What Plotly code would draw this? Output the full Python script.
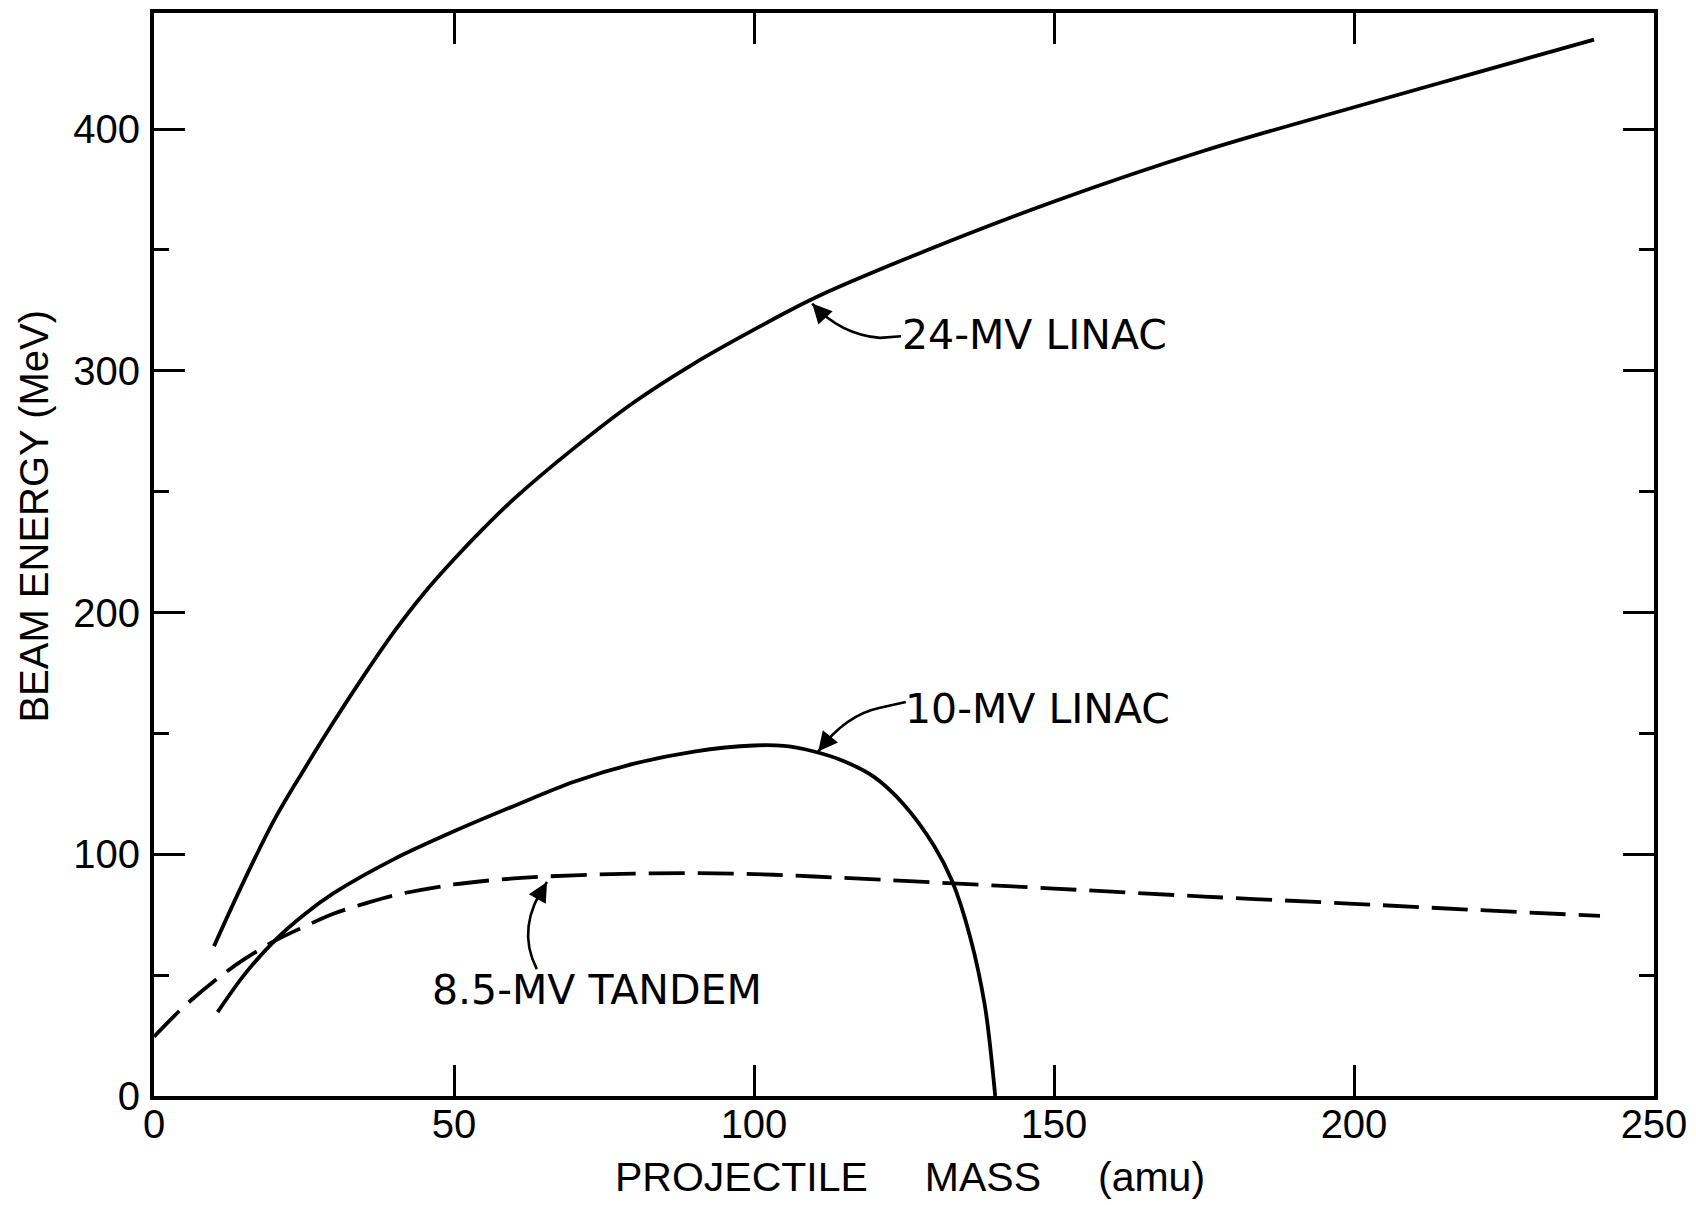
import plotly.graph_objects as go

# ---- data ----
mass_24mv = [10, 15, 20, 25, 30, 35, 40, 45, 50, 55, 60, 70, 80, 90, 100, 110, 125, 150, 175, 200, 220, 240]
energy_24mv = [62, 89, 114, 135, 155, 174, 192, 208, 222, 235, 247, 268, 287, 303, 317, 330, 346, 370, 391, 409, 423, 437]

mass_10mv = [10.6, 15, 20, 25, 30, 40, 50, 60, 70, 80, 90, 100, 105, 110, 115, 120, 125, 130, 133, 136, 138.5, 140.2]
energy_10mv = [34.7, 50, 64, 75, 84, 98, 109.5, 120, 130, 137.5, 142.5, 145, 144.8, 142.5, 138.5, 132, 120.5, 103.5, 89, 66, 37, 0]

mass_tandem = [0, 5, 10, 15, 20, 25, 30, 35, 40, 50, 60, 70, 80, 90, 100, 110, 125, 150, 175, 200, 220, 241]
energy_tandem = [24.5, 37, 47.5, 56.5, 64, 70, 75.5, 79.5, 83, 87.5, 90, 91.3, 92, 92.2, 91.8, 90.8, 89, 85.8, 82.5, 79.5, 77, 74.5]

x_ticks = [0, 50, 100, 150, 200, 250]
y_ticks = [0, 100, 200, 300, 400]

curve_labels = ["24-MV LINAC", "10-MV LINAC", "8.5-MV TANDEM"]

TICK_FONT = "Liberation Sans"
LABEL_FONT = "DejaVu Sans"
INK = "#000000"

fig = go.Figure()
fig.add_trace(go.Scatter(x=mass_24mv, y=energy_24mv, mode="lines",
                         line=dict(color=INK, width=3.8, shape="spline", smoothing=1.0),
                         name=curve_labels[0], showlegend=False))
fig.add_trace(go.Scatter(x=mass_10mv, y=energy_10mv, mode="lines",
                         line=dict(color=INK, width=3.8, shape="spline", smoothing=0.9),
                         name=curve_labels[1], showlegend=False))
fig.add_trace(go.Scatter(x=mass_tandem, y=energy_tandem, mode="lines",
                         line=dict(color=INK, width=3.8, shape="spline", smoothing=1.0,
                                   dash="36px,13px"),
                         name=curve_labels[2], showlegend=False))

axis_common = dict(
    showgrid=False, zeroline=False, showline=True, linecolor=INK, linewidth=4,
    mirror="ticks", ticks="inside", tickcolor=INK, tickwidth=3.2, ticklen=31,
    tickfont=dict(family=TICK_FONT, size=40, color=INK),
)

fig.update_xaxes(range=[0, 250], tickvals=x_ticks, ticktext=[str(v) for v in x_ticks],
                 ticklabelstandoff=-10, **axis_common)
fig.update_yaxes(range=[0, 448], tickvals=y_ticks, ticktext=[str(v) for v in y_ticks],
                 minor=dict(dtick=50, tick0=0, ticks="inside", ticklen=15, tickwidth=3.2, tickcolor=INK),
                 ticklabelstandoff=2, **axis_common)

# curve labels
label_font = dict(family=LABEL_FONT, size=41, color=INK)
fig.add_annotation(x=124.3, y=315, text=curve_labels[0], showarrow=False, xanchor="left", yanchor="middle", font=label_font)
fig.add_annotation(x=124.9, y=160, text=curve_labels[1], showarrow=False, xanchor="left", yanchor="middle", font=label_font)
fig.add_annotation(x=46.0, y=44.0, text=curve_labels[2], showarrow=False, xanchor="left", yanchor="middle", font=label_font)

# curved leader lines
lead = dict(color=INK, width=2.6)
fig.add_shape(type="path", xref="x", yref="y", line=lead,
              path="M 124.5 314.3 L 121 313.6 Q 114.4 315 109.7 327.8")
fig.add_shape(type="path", xref="x", yref="y", line=lead,
              path="M 125.3 163 L 121 160.6 Q 115.2 157.6 110.7 142.5")
fig.add_shape(type="path", xref="x", yref="y", line=lead,
              path="M 63.8 52.5 Q 60.2 69.8 65.5 88.5")

# arrow heads
for (xt, yt, ax, ay) in [(109.7, 327.8, 14, 15), (110.7, 142.5, 12, -15), (65.5, 88.5, -8, 14)]:
    fig.add_annotation(x=xt, y=yt, ax=ax, ay=ay, text="", showarrow=True,
                       arrowhead=2, arrowsize=1.5, arrowwidth=2.6, arrowcolor=INK, standoff=0)

# axis titles
sp = "\u00a0" * 5
fig.add_annotation(xref="paper", yref="paper", x=0.5040, y=-0.0745,
                   text="PROJECTILE" + sp + "MASS" + sp + "(amu)",
                   showarrow=False, xanchor="center", yanchor="middle",
                   font=dict(family=TICK_FONT, size=41, color=INK))
fig.add_annotation(xref="paper", yref="paper", x=-0.0797, y=0.5354,
                   text="BEAM ENERGY (MeV)", textangle=-90,
                   showarrow=False, xanchor="center", yanchor="middle",
                   font=dict(family=TICK_FONT, size=40, color=INK))

fig.update_layout(
    width=1696, height=1205,
    margin=dict(l=154, r=34, t=9, b=109, pad=0),
    paper_bgcolor="white", plot_bgcolor="white",
    font=dict(family=TICK_FONT, color=INK),
)

# remove the default page margin so the figure fills the window exactly; hide the mode bar
fig.write_html("out.html",
               config={"displayModeBar": False},
               post_script="document.body.style.margin='0';document.body.style.overflow='hidden';")
